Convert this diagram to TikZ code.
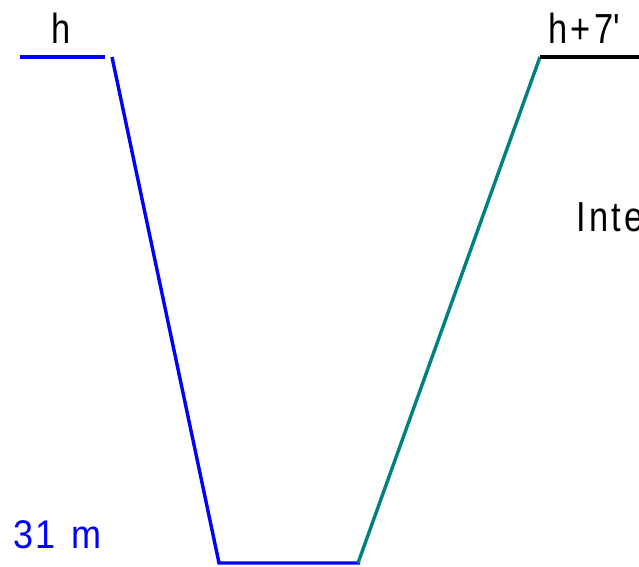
\documentclass[tikz,border=0pt]{standalone}
\usepackage{fontspec}
\setmainfont{Liberation Sans}[FakeStretch=0.82,LetterSpace=8]
\newfontfamily\widefont{Liberation Sans}[FakeStretch=0.9,LetterSpace=6]
\begin{document}
\begin{tikzpicture}[x=1pt,y=-1pt,
  lbl/.style={inner sep=0pt,anchor=base,font=\fontsize{42}{42}\selectfont},
  seg/.style={line width=3.4pt}]
\definecolor{tealc}{RGB}{0,128,128}
\definecolor{bluec}{RGB}{0,0,255}
\useasboundingbox (0,0) rectangle (639,566);
\clip (0,0) rectangle (639,566);
\coordinate (a1) at (20,57);
\coordinate (a2) at (105,57);
\coordinate (b1) at (112,57);
\coordinate (b2) at (219,563);
\coordinate (c2) at (360,563);
\coordinate (d1) at (358,563);
\coordinate (d2) at (540,57);
\coordinate (e2) at (660,57);
\draw[seg,bluec] (a1) -- (a2);
\draw[seg,bluec] (b1) -- (b2) -- (c2);
\draw[seg,tealc] (d1) -- (d2);
\draw[seg,black] (d2) -- (e2);
\node[lbl] (h) at (61,43) {h};
\node[lbl,anchor=base west] (h7) at (548,43) {h+7\textquotesingle};
\node[lbl,anchor=base west] (inte) at (576,231) {Inte};
\node[lbl,anchor=base west,text=bluec,font=\widefont\fontsize{40}{40}\selectfont] (m) at (13,548) {31\hspace*{16pt}m};
\end{tikzpicture}
\end{document}
